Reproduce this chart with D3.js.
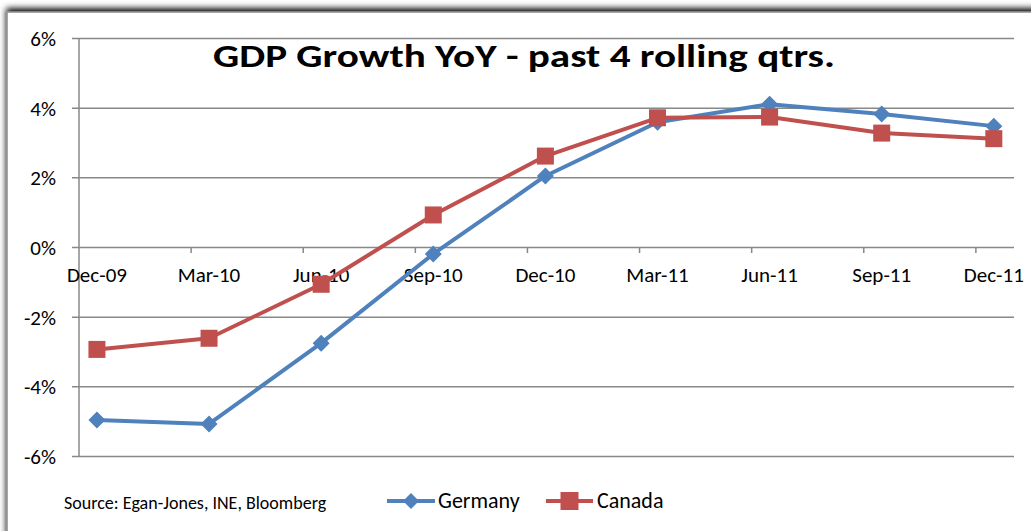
<!DOCTYPE html>
<html><head><meta charset="utf-8">
<script src="https://cdn.jsdelivr.net/npm/d3@7"></script>
<style>body{margin:0;background:#fff;overflow:hidden}svg{display:block}</style>
</head><body>
<svg id="c" width="1031" height="531"></svg>
<script>
const categories = ["Dec-09","Mar-10","Jun-10","Sep-10","Dec-10","Mar-11","Jun-11","Sep-11","Dec-11"];
const germany = [-4.97, -5.08, -2.76, -0.2, 2.04, 3.58, 4.1, 3.82, 3.47];
const canada  = [-2.94, -2.62, -1.07, 0.92, 2.61, 3.71, 3.73, 3.27, 3.11];
const yTicks = [-6, -4, -2, 0, 2, 4, 6];
const title = "GDP Growth YoY - past 4 rolling qtrs.";
const source = "Source: Egan-Jones, INE, Bloomberg";
const seriesNames = ["Germany", "Canada"];

const svg = d3.select("#c");
const font = "Carlito, Calibri, 'Open Sans', sans-serif";

// frame with shadow
const defs = svg.append("defs");
const f = defs.append("filter").attr("id","sh").attr("x","-5%").attr("y","-5%").attr("width","110%").attr("height","110%");
f.append("feGaussianBlur").attr("in","SourceAlpha").attr("stdDeviation",3);
f.append("feOffset").attr("dx",0).attr("dy",-3).attr("result","b");
const fm = f.append("feMerge"); fm.append("feMergeNode").attr("in","b"); fm.append("feMergeNode").attr("in","SourceGraphic");
svg.append("rect").attr("x",7).attr("y",12).attr("width",1100).attr("height",600)
  .attr("fill","#fff").attr("stroke","#8c8c8c").attr("stroke-width",1.5).attr("filter","url(#sh)");

const x = d3.scaleLinear().domain([-0.16, 8.18]).range([79, 1014]);
const y = d3.scaleLinear().domain([-6, 6]).range([456, 38]);

// gridlines
const yAxis = d3.axisLeft(y).tickValues(yTicks).tickSize(-(1014-72)).tickPadding(16).tickFormat(d => d + "%");
const ga = svg.append("g").attr("transform","translate(72,0)").call(yAxis);
ga.select(".domain").remove();
ga.selectAll(".tick line").attr("stroke","#888").attr("stroke-width",1.5).attr("x1",0).attr("x2",1014-72);
ga.selectAll(".tick text").attr("font-family",font).attr("font-size",21).attr("fill","#000").attr("x",-16).attr("dy","0.35em");

// vertical axis line
svg.append("line").attr("x1",x(-0.16)).attr("x2",x(-0.16)).attr("y1",y(6)).attr("y2",y(-6)).attr("stroke","#888").attr("stroke-width",1.5);

// category axis at 0 with ticks
const tickPos = d3.range(1, 9).map(k => k - 0.16);
svg.append("g").selectAll("line").data(tickPos).join("line")
  .attr("x1", d => x(d)).attr("x2", d => x(d)).attr("y1", y(0)).attr("y2", y(0) + 6)
  .attr("stroke","#888").attr("stroke-width",1.5);
svg.append("g").selectAll("text").data(categories).join("text")
  .attr("x", (d,i) => x(i)).attr("y", y(0) + 35).attr("text-anchor","middle")
  .attr("font-family",font).attr("font-size",21).attr("fill","#000").text(d => d);

// title
svg.append("text").attr("x",524).attr("y",67).attr("text-anchor","middle")
  .attr("font-family",font).attr("font-weight","bold").attr("font-size",33).attr("fill","#000")
  .attr("textLength",622).attr("lengthAdjust","spacingAndGlyphs").text(title);

const colors = ["#4F81BD", "#C0504D"];
const line = d3.line().x((d,i) => x(i)).y(d => y(d));
const diamond = s => `M0,${-s}L${s},0L0,${s}L${-s},0Z`;

function drawSeries(data, color, type) {
  svg.append("path").datum(data).attr("d", line).attr("fill","none").attr("stroke",color).attr("stroke-width",4).attr("stroke-linejoin","round");
  const g = svg.append("g");
  if (type === "diamond") {
    g.selectAll("path").data(data).join("path").attr("transform",(d,i)=>`translate(${x(i)},${y(d)})`).attr("d", diamond(8.5)).attr("fill",color);
  } else {
    g.selectAll("rect").data(data).join("rect").attr("x",(d,i)=>x(i)-8.5).attr("y",d=>y(d)-8.5).attr("width",17).attr("height",17).attr("fill",color);
  }
}
drawSeries(germany, colors[0], "diamond");
drawSeries(canada, colors[1], "square");

// footer
svg.append("text").attr("x",64).attr("y",509).attr("font-family",font).attr("font-size",18).attr("fill","#000").text(source);
const leg = [{x0:387,x1:435,tx:438,type:"diamond"},{x0:546,x1:593,tx:597,type:"square"}];
leg.forEach((l,i) => {
  svg.append("line").attr("x1",l.x0).attr("x2",l.x1).attr("y1",501).attr("y2",501).attr("stroke",colors[i]).attr("stroke-width",4);
  const cx = (l.x0+l.x1)/2;
  if (l.type==="diamond") svg.append("path").attr("transform",`translate(${cx},501)`).attr("d",diamond(8)).attr("fill",colors[i]);
  else svg.append("rect").attr("x",cx-9).attr("y",492).attr("width",18).attr("height",18).attr("fill",colors[i]);
  svg.append("text").attr("x",l.tx).attr("y",508).attr("font-family",font).attr("font-size",22).attr("fill","#000").text(seriesNames[i]);
});
</script>
</body></html>
